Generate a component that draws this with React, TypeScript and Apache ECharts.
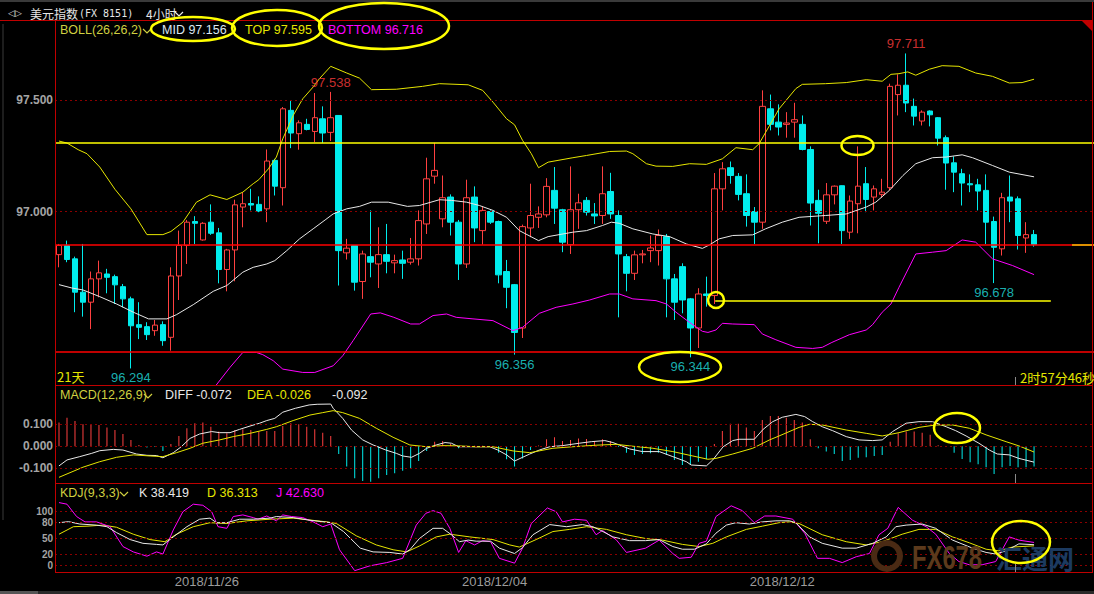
import React, { useEffect, useRef } from 'react';
import * as echarts from 'echarts';

// ---- price candles: [open, close, low, high], one per 4-hour bar ----
const candles: number[][] = [
  [96.806, 96.847, 96.749, 96.854], [96.847, 96.784, 96.772, 96.869], [96.787, 96.637, 96.547, 96.797],
  [96.637, 96.592, 96.527, 96.854], [96.592, 96.697, 96.471, 96.730], [96.697, 96.724, 96.614, 96.779],
  [96.719, 96.704, 96.632, 96.742], [96.707, 96.670, 96.584, 96.716], [96.662, 96.607, 96.569, 96.674],
  [96.607, 96.486, 96.294, 96.617], [96.491, 96.479, 96.426, 96.592], [96.482, 96.446, 96.422, 96.502],
  [96.464, 96.489, 96.441, 96.512], [96.491, 96.419, 96.396, 96.506], [96.434, 96.710, 96.374, 96.749],
  [96.710, 96.847, 96.602, 96.914], [96.847, 96.952, 96.764, 96.962], [96.955, 96.947, 96.854, 96.979],
  [96.872, 96.947, 96.869, 96.952], [96.952, 96.902, 96.895, 97.032], [96.904, 96.739, 96.677, 96.926],
  [96.739, 96.827, 96.641, 96.832], [96.827, 97.030, 96.686, 97.053], [97.020, 97.035, 96.929, 97.087],
  [97.036, 97.029, 97.005, 97.102], [97.032, 97.002, 96.997, 97.068], [97.012, 97.227, 96.952, 97.279],
  [97.230, 97.114, 97.072, 97.237], [97.107, 97.462, 97.027, 97.470], [97.455, 97.353, 97.285, 97.497],
  [97.350, 97.399, 97.278, 97.410], [97.392, 97.369, 97.365, 97.417], [97.360, 97.422, 97.312, 97.533],
  [97.417, 97.353, 97.308, 97.473], [97.356, 97.422, 97.317, 97.538], [97.432, 96.824, 96.667, 97.432],
  [96.814, 96.835, 96.784, 96.877], [96.847, 96.682, 96.644, 96.847], [96.685, 96.809, 96.607, 96.824],
  [96.797, 96.772, 96.704, 97.005], [96.764, 96.806, 96.656, 96.929], [96.806, 96.776, 96.722, 96.944],
  [96.769, 96.779, 96.722, 96.806], [96.782, 96.767, 96.697, 96.824], [96.772, 96.787, 96.761, 96.881],
  [96.787, 96.959, 96.757, 97.005], [96.944, 97.147, 96.899, 97.242], [97.159, 97.185, 97.125, 97.309],
  [96.967, 97.062, 96.929, 97.162], [97.065, 96.952, 96.892, 97.077], [96.952, 96.764, 96.692, 96.962],
  [96.764, 97.062, 96.746, 97.143], [97.065, 96.926, 96.862, 97.113], [96.914, 97.005, 96.851, 97.023],
  [97.000, 96.952, 96.944, 97.005], [96.955, 96.715, 96.677, 96.959], [96.730, 96.659, 96.565, 96.782],
  [96.671, 96.456, 96.356, 96.674], [96.476, 96.932, 96.431, 96.941], [96.926, 96.982, 96.884, 97.125],
  [96.974, 96.989, 96.926, 97.023], [96.985, 97.113, 96.974, 97.150], [97.095, 97.015, 96.944, 97.200],
  [97.008, 96.862, 96.817, 97.012], [96.851, 97.008, 96.809, 97.203], [97.008, 97.039, 96.922, 97.080],
  [97.050, 96.997, 96.982, 97.065], [96.989, 96.980, 96.944, 97.038], [96.982, 97.080, 96.944, 97.203],
  [97.090, 96.989, 96.967, 97.174], [96.982, 96.809, 96.524, 97.005], [96.797, 96.722, 96.641, 96.809],
  [96.722, 96.805, 96.692, 96.824], [96.805, 96.809, 96.767, 96.827], [96.824, 96.836, 96.772, 96.892],
  [96.824, 96.892, 96.757, 96.919], [96.887, 96.697, 96.524, 96.899], [96.697, 96.592, 96.512, 96.719],
  [96.752, 96.602, 96.542, 96.767], [96.607, 96.476, 96.344, 96.611], [96.476, 96.629, 96.386, 96.655],
  [96.629, 96.622, 96.572, 96.707], [96.622, 97.102, 96.584, 97.173], [97.102, 97.192, 97.005, 97.222],
  [97.197, 97.162, 97.125, 97.225], [97.158, 97.077, 97.050, 97.173], [97.080, 96.982, 96.932, 97.167],
  [97.000, 96.952, 96.854, 97.020], [96.952, 97.473, 96.922, 97.545], [97.462, 97.392, 97.365, 97.526],
  [97.402, 97.380, 97.342, 97.482], [97.392, 97.398, 97.332, 97.447], [97.402, 97.413, 97.332, 97.489],
  [97.392, 97.279, 97.275, 97.432], [97.279, 97.038, 96.937, 97.293], [97.050, 96.992, 96.857, 97.098],
  [96.956, 97.075, 96.944, 97.128], [97.075, 97.114, 97.032, 97.117], [97.116, 96.914, 96.854, 97.117],
  [96.907, 97.047, 96.877, 97.072], [97.035, 97.114, 96.902, 97.293], [97.125, 97.054, 96.997, 97.200],
  [97.065, 97.102, 97.005, 97.117], [97.077, 97.087, 97.062, 97.147], [97.107, 97.563, 97.095, 97.575],
  [97.526, 97.568, 97.432, 97.617], [97.568, 97.488, 97.447, 97.711], [97.473, 97.429, 97.387, 97.508],
  [97.407, 97.447, 97.387, 97.455], [97.452, 97.435, 97.383, 97.455], [97.422, 97.330, 97.297, 97.425],
  [97.332, 97.218, 97.098, 97.342], [97.219, 97.177, 97.087, 97.248], [97.170, 97.128, 97.027, 97.192],
  [97.125, 97.120, 97.087, 97.167], [97.120, 97.092, 97.005, 97.147], [97.095, 96.952, 96.854, 97.167],
  [96.955, 96.839, 96.678, 96.977], [96.832, 97.062, 96.802, 97.084], [97.065, 97.047, 96.952, 97.162],
  [97.057, 96.892, 96.829, 97.068], [96.881, 96.896, 96.814, 96.952], [96.896, 96.851, 96.842, 96.917],
];
const SLOTS = 130; // bar slots across the panel (last ones empty)

// ---- Bollinger (26,26,2) lines, vertices as [bar index, value] ----
const upperBand: number[][] = [
  [0, 97.317], [1, 97.308], [2.4, 97.278], [3.5, 97.26], [5.1, 97.2], [7, 97.1], [9, 97.012], [11, 96.896],
  [13, 96.896], [14, 96.91], [15.5, 96.952], [17.2, 97.042], [18.9, 97.075], [21, 97.054], [23, 97.087],
  [24.3, 97.125], [25, 97.143], [26.2, 97.192], [27.2, 97.245], [28, 97.327], [29.3, 97.432], [30.5, 97.507],
  [31.8, 97.56], [32.6, 97.598], [34, 97.653], [36, 97.623], [37.6, 97.6], [39.1, 97.548], [42.2, 97.55],
  [45.5, 97.563], [47.6, 97.575], [51.2, 97.57], [53, 97.545], [54.3, 97.492], [56, 97.417], [57, 97.39],
  [58, 97.32], [59.1, 97.26], [60, 97.197], [61.2, 97.222], [64.3, 97.242], [66, 97.252], [68.9, 97.27],
  [71, 97.272], [71.8, 97.26], [73.5, 97.215], [74.7, 97.204], [76.8, 97.203], [78.9, 97.215], [81, 97.212],
  [83, 97.237], [84.7, 97.287], [86.8, 97.278], [87.6, 97.305], [90.1, 97.462], [92.2, 97.553], [93, 97.572],
  [95.9, 97.575], [98.5, 97.58], [101, 97.593], [103, 97.586], [104.1, 97.617], [105.1, 97.62], [106.2, 97.628],
  [107.2, 97.613], [108.9, 97.64], [110.5, 97.656], [112.6, 97.653], [114.7, 97.623], [116.8, 97.608],
  [118.9, 97.578], [120.5, 97.58], [122, 97.595],
];
const midBand: number[][] = [
  [0, 96.671], [1.6, 96.656], [3, 96.647], [5.1, 96.617], [7.2, 96.584], [9.3, 96.547], [11.2, 96.517],
  [13.5, 96.517], [14.7, 96.536], [16.8, 96.581], [19.3, 96.641], [21, 96.667], [23, 96.727], [24.3, 96.749],
  [26, 96.764], [27, 96.779], [28.5, 96.824], [30.1, 96.877], [31.8, 96.922], [33.3, 96.962], [34.3, 96.989],
  [36, 97.012], [37.6, 97.023], [39.1, 97.042], [41.2, 97.042], [43.6, 97.023], [45.1, 97.027], [47.6, 97.053],
  [49.1, 97.05], [51, 97.042], [52.6, 97.027], [54.3, 97.005], [56, 96.974], [57.6, 96.914], [60, 96.869],
  [61.2, 96.887], [64.3, 96.907], [66, 96.914], [68, 96.937], [69.1, 96.952], [70.1, 96.947], [71.8, 96.922],
  [74.3, 96.899], [76.4, 96.887], [78.5, 96.854], [80.5, 96.834], [81.4, 96.85], [82.6, 96.877], [84.3, 96.892],
  [86.8, 96.895], [88.4, 96.922], [90.5, 96.952], [92.6, 96.974], [95.9, 96.982], [98.5, 96.989], [101, 97.02],
  [102.2, 97.042], [103.9, 97.095], [105.6, 97.162], [107.2, 97.215], [109.3, 97.242], [111, 97.245],
  [113, 97.255], [114.3, 97.242], [116.8, 97.207], [118.9, 97.177], [122, 97.156],
];
const lowerBand: number[][] = [
  [19.6, 96.216], [21.4, 96.299], [23, 96.366], [24.7, 96.366], [25.5, 96.356], [26.8, 96.329], [28, 96.291],
  [30.5, 96.276], [32, 96.276], [34.3, 96.306], [35.5, 96.351], [36.8, 96.419], [39, 96.539], [40.2, 96.544],
  [41.9, 96.524], [44, 96.494], [45.1, 96.494], [46.8, 96.532], [48.5, 96.539], [49.7, 96.524], [51.8, 96.517],
  [54.3, 96.509], [56.8, 96.464], [58, 96.479], [60.1, 96.542], [62.2, 96.569], [64.3, 96.584], [66.4, 96.602],
  [68.9, 96.629], [70.1, 96.629], [71.8, 96.607], [74.7, 96.599], [76, 96.584], [77.2, 96.547], [78.9, 96.501],
  [80.5, 96.461], [81.2, 96.456], [82.2, 96.467], [83, 96.497], [84.3, 96.494], [87, 96.491], [88, 96.449],
  [89.7, 96.423], [92.2, 96.389], [94.3, 96.384], [95.5, 96.389], [96.7, 96.411], [98.9, 96.446], [101, 96.467],
  [101.8, 96.491], [103, 96.547], [104.1, 96.584], [105.1, 96.659], [107.2, 96.809], [109.3, 96.817],
  [111, 96.824], [113, 96.872], [114.7, 96.862], [116.8, 96.787], [119.3, 96.757], [122, 96.716],
];

// ---- marked highs / lows ----
const extremeIdx = [34, 106, 9, 57, 79, 117];
const extremeVal = [97.538, 97.711, 96.294, 96.356, 96.344, 96.678];
const extremeIsHigh = [true, true, false, false, false, false];

// ---- drawn guide levels ----
const redLevels = [96.852, 96.367];
const yellowLevels = [97.305];
const yellowSegment: number[][] = [[82.1, 96.599], [124.1, 96.599]];
const priceGrid = [97.0, 97.5];
const priceTicks = [97.0, 97.5];

// ---- MACD(12,26,9) ----
const macdHist = [
  0.108, 0.130, 0.115, 0.100, 0.097, 0.097, 0.086, 0.074, 0.056, 0.029, 0.006, -0.006, -0.003, -0.021, 0.011,
  0.047, 0.082, 0.105, 0.108, 0.089, 0.067, 0.059, 0.074, 0.077, 0.074, 0.067, 0.070, 0.070, 0.092, 0.105,
  0.100, 0.089, 0.077, 0.062, 0.047, -0.035, -0.092, -0.145, -0.158, -0.161, -0.145, -0.130, -0.123, -0.111,
  -0.100, -0.067, -0.021, 0.021, 0.024, 0.011, -0.009, 0.002, 0.003, 0.003, -0.002, -0.029, -0.059, -0.092,
  -0.055, -0.017, 0.004, 0.032, 0.041, 0.024, 0.029, 0.036, 0.033, 0.024, 0.032, 0.024, -0.003, -0.029,
  -0.039, -0.035, -0.032, -0.029, -0.039, -0.062, -0.085, -0.085, -0.070, -0.059, 0.011, 0.070, 0.102, 0.102,
  0.086, 0.070, 0.120, 0.138, 0.138, 0.130, 0.120, 0.108, 0.032, -0.009, -0.024, -0.035, -0.067, -0.062,
  -0.052, -0.050, -0.044, -0.039, 0.021, 0.059, 0.067, 0.067, 0.062, 0.052, 0.005, -0.003, -0.029, -0.058,
  -0.073, -0.082, -0.095, -0.126, -0.095, -0.089, -0.095, -0.095, -0.092,
];
const diffLine: number[][] = [
  [0, -0.089], [1, -0.062], [2.6, -0.047], [4.1, -0.032], [5.1, -0.02], [6.8, -0.014], [8, -0.017],
  [9.7, -0.035], [11, -0.041], [12.2, -0.042], [13, -0.052], [14.3, -0.029], [15.3, -0.002], [16.4, 0.036],
  [17.6, 0.056], [19.1, 0.067], [20.1, 0.062], [21.4, 0.062], [22.6, 0.077], [23.9, 0.092], [25.1, 0.105],
  [26, 0.117], [27, 0.127], [28, 0.155], [29.6, 0.173], [31.3, 0.188], [32.3, 0.191], [34, 0.192],
  [34.3, 0.173], [35.5, 0.127], [36.6, 0.074], [38, 0.029], [39.3, 0.006], [40.9, -0.017], [42.2, -0.032],
  [43, -0.044], [44.1, -0.05], [45.1, -0.032], [46, -0.009], [47.2, 0.006], [48.3, 0.017], [49.1, 0.014],
  [50, -0.002], [51.8, -0.002], [53.9, -0.002], [54.9, -0.017], [56, -0.039], [57, -0.067], [58, -0.05],
  [58.9, -0.035], [60.1, -0.017], [61.4, -0.002], [63, 0.003], [65.1, 0.014], [66.6, 0.021], [68.3, 0.026],
  [69.3, 0.017], [70.1, 0.006], [71.4, -0.012], [73, -0.024], [75.1, -0.024], [76.8, -0.047], [78.5, -0.07],
  [79.1, -0.085], [81, -0.089], [81.8, -0.062], [83.1, -0.002], [84.3, 0.026], [85.1, 0.032], [87, 0.032],
  [88.1, 0.077], [89.3, 0.112], [90.5, 0.132], [92.2, 0.145], [93.3, 0.135], [94.3, 0.112], [95.5, 0.089],
  [96.8, 0.071], [98.5, 0.044], [100.1, 0.029], [101.8, 0.026], [103, 0.029], [104.3, 0.067], [106, 0.105],
  [107.6, 0.112], [109.3, 0.112], [111, 0.089], [112.2, 0.071], [113.5, 0.047], [115.1, 0.014],
  [116.4, -0.017], [117.4, -0.035], [118.9, -0.039], [120.1, -0.055], [122, -0.072],
];
const deaLine: number[][] = [
  [0, -0.141], [3, -0.095], [5.1, -0.07], [7.2, -0.05], [9.3, -0.039], [11.4, -0.044], [13, -0.047],
  [14.7, -0.029], [16.4, -0.009], [18, 0.014], [20.1, 0.029], [21.8, 0.044], [23.9, 0.059], [26, 0.077],
  [27.2, 0.089], [29.3, 0.117], [31.4, 0.142], [33, 0.153], [34.3, 0.162], [35.5, 0.153], [37.6, 0.127],
  [39.7, 0.082], [41.8, 0.041], [43.9, 0.006], [46, -0.002], [48, 0.003], [50, 0.002], [52.2, -0.002],
  [54.3, -0.002], [56.8, -0.021], [58.9, -0.029], [61.8, -0.009], [64.3, -0.002], [67.2, 0.005], [69.7, 0.009],
  [71.4, 0.002], [74.3, -0.009], [76.8, -0.024], [79.3, -0.044], [81.2, -0.059], [82.2, -0.055], [84.3, -0.035],
  [86.8, -0.009], [88.9, 0.029], [90.1, 0.047], [92.6, 0.086], [93.9, 0.1], [95.5, 0.097], [98.5, 0.074],
  [101, 0.059], [103, 0.047], [105.1, 0.062], [107.6, 0.086], [109.7, 0.097], [111.8, 0.097], [113.9, 0.082],
  [116, 0.052], [118.5, 0.021], [120.1, 0.002], [122, -0.026],
];
const macdGrid = [-0.1, 0, 0.1];

// ---- KDJ(9,3,3) ----
const kLine: number[][] = [
  [0, 79.5], [1.2, 81.4], [2.6, 77], [4.7, 75], [6, 72], [7.2, 61], [8.9, 48], [10.5, 41], [12.2, 39], [13, 38],
  [14.3, 53], [16, 72], [17.6, 86], [18.9, 88], [19.7, 79.5], [21, 79.5], [22.6, 86], [24.3, 86], [26.4, 88],
  [27.2, 91], [29.3, 89], [31.4, 84], [34, 79.5], [35.6, 63], [37.7, 32], [39.3, 25], [41.4, 24], [43, 21],
  [43.9, 29], [45.1, 50], [46.8, 69], [48, 69], [49.1, 57], [50.1, 44], [51.2, 47], [52.2, 45], [54, 45],
  [55.1, 32], [57, 22], [58, 33], [59.3, 57], [61.4, 76], [63.5, 72], [65.5, 76], [66.8, 72], [67.8, 65],
  [69.3, 53], [71.4, 46], [73.4, 46], [75.1, 48], [76.8, 35], [78, 30], [79.5, 30], [81, 40], [82.2, 60],
  [83.5, 75], [84.7, 79.5], [86.4, 77], [88, 81], [89.7, 83], [91.4, 83], [92.2, 79.5], [93.9, 53], [95.5, 41],
  [98, 32], [99.75, 32], [101.8, 41], [103.5, 53], [104.7, 72], [106, 75], [108, 77], [109.7, 69], [111.8, 47],
  [114.3, 32], [116, 24], [117.2, 21], [118.5, 27], [120.1, 40], [122, 38.419],
];
const dLine: number[][] = [
  [0, 58], [1.8, 72], [3.5, 73], [5.5, 75], [7.2, 71], [9.3, 58], [11.4, 48], [13.25, 44], [14.7, 58],
  [16.8, 72], [18.9, 79.5], [21, 78], [23.5, 83], [26.4, 86], [29.3, 88], [33.5, 81], [34.7, 78], [37.2, 55],
  [39.7, 38], [41.8, 29], [43.5, 25], [45.1, 36], [47.2, 53], [48.9, 58], [51.4, 53], [54.3, 48], [56.4, 38],
  [57.6, 34], [59.7, 48], [61.8, 63], [63.9, 67], [66, 72], [68.5, 67], [71, 57], [73.4, 50], [75.5, 47],
  [78, 39], [80.1, 35], [81.8, 41], [83.5, 53], [86, 67], [88, 73], [90.1, 79.5], [91.4, 81], [92.6, 78],
  [95.5, 57], [98.5, 44], [101, 38], [103, 44], [105.5, 58], [107.6, 67], [109.7, 67], [111.8, 53],
  [113.9, 42], [116, 30], [117.6, 27], [119.3, 34], [122, 36.313],
];
const jLine: number[][] = [
  [0, 117], [1, 114], [2.2, 91], [3.25, 81], [4.7, 81], [6.4, 72], [8, 35], [9.3, 25], [11, 17], [12.2, 25],
  [13, 21], [14.3, 66], [15.5, 100], [16.8, 114], [18, 112], [19.1, 100], [19.9, 72], [21, 69], [21.8, 91],
  [23, 94], [24.3, 89], [24.9, 86], [26, 92], [27.2, 83], [28, 94], [29.1, 91], [30.5, 89], [31.8, 81], [33, 72],
  [34, 77], [35.1, 29], [37, -10], [38.9, -1], [41, 5], [43, 13], [44.7, 75], [45.9, 97], [46.8, 102],
  [47.8, 97], [48.9, 69], [50, 24], [50.9, 46], [52, 38], [53, 46], [54, 44], [55.1, 13], [57, 4], [58, 32],
  [59.1, 78], [61.1, 107], [62.2, 100], [63, 81], [64.5, 86], [66, 84], [67.2, 57], [68, 65], [69.7, 48],
  [71, 24], [73.4, 32], [75.1, 47], [76.8, 22], [77.6, 13], [79.1, 15], [80.1, 41], [81, 45], [82.2, 91],
  [84.1, 111], [85.5, 102], [87, 79.5], [88.3, 92], [89.7, 92], [91.8, 86], [93.3, 60], [94.9, 13], [96.4, 13],
  [98, 5], [99.75, 16], [101.4, 22], [102.6, 57], [103.7, 69], [105, 108], [106.8, 84], [108.5, 72],
  [109.7, 58], [111.4, 22], [112.6, 7], [113.9, 1], [115.5, 1], [117.2, 7], [118.9, 53], [120.1, 47],
  [122, 42.63],
];
const kdjGrid = [0, 20, 50, 80, 100];
const kdjTicksA = [0, 50, 100];
const kdjTicksB = [20, 80];

// ---- date labels ----
const dateLabels = ['2018/11/26', '2018/12/04', '2018/12/12'];
const datePos = [18.5, 54.5, 90.5];

const UP = '#ff4040';
const DOWN = '#00ecec';
const YEL = '#e6e600';
const OLIVE = '#d0d040';
const MAG = '#ff00ff';
const WHITE = '#e8e8e8';
const GRIDRED = '#8a0000';
const BORDER = '#c00000';
const FONT = '"Liberation Sans", Arial, sans-serif';

const last = (a: number[][]) => a[a.length - 1][1];

function buildOption(): any {
  const cats = Array.from({ length: SLOTS }, (_, i) => String(i));
  const gridLine = (vals: number[]) => vals.map((v) => ({ yAxis: v }));
  const dotted = { color: GRIDRED, type: [2, 3], width: 1 };

  const txt = (x: number, y: number, text: string, fill: string, size = 12.5, extra: any = {}) => ({
    type: 'text', x, y, z: 50,
    style: { text, fill, font: `${size}px ${FONT}`, align: 'left', verticalAlign: 'middle', ...extra },
  });
  const chevron = (x: number, y: number, color: string) => ({
    type: 'polyline', z: 50,
    shape: { points: [[x, y - 2], [x + 4, y + 2], [x + 8, y - 2]] },
    style: { stroke: color, lineWidth: 1.2, fill: 'none' },
  });
  const hline = (x1: number, x2: number, y: number, color: string, w = 1) => ({
    type: 'line', z: 40, shape: { x1, y1: y, x2, y2: y }, style: { stroke: color, lineWidth: w },
  });
  const vline = (x: number, y1: number, y2: number, color: string, w = 1) => ({
    type: 'line', z: 40, shape: { x1: x, y1, x2: x, y2 }, style: { stroke: color, lineWidth: w },
  });
  const ell = (cx: number, cy: number, rx: number, ry: number) => ({
    type: 'ellipse', z: 60, shape: { cx, cy, rx, ry }, style: { stroke: '#ffff00', lineWidth: 2.5, fill: 'none' },
  });

  const graphic: any[] = [
    { type: 'rect', z: 30, shape: { x: 0, y: 0, width: 1094, height: 2 }, style: { fill: '#3a3a3a' } },
    { type: 'rect', z: 30, shape: { x: 0, y: 591, width: 1094, height: 3 }, style: { fill: '#2a2a2a' } },
    { type: 'rect', z: 30, shape: { x: 0, y: 591, width: 38, height: 3 }, style: { fill: '#555555' } },
    vline(3, 24, 520, '#3a3a3a', 1),
    txt(8, 13, '◁▷', '#d8d8d8', 9, { font: `9px "DejaVu Sans"` }),
    txt(30, 13, '美元指数', '#e6e6e6', 12, { font: `12px "Noto Sans CJK SC"` }),
    txt(79, 13, '(FX 8151)', '#e6e6e6', 10, { font: `10px "DejaVu Sans Mono"` }),
    txt(146, 13, '4小时', '#e6e6e6', 12, { font: `12px "Noto Sans CJK SC"` }),
    chevron(175, 14, '#e6e6e6'),
    // panel borders
    hline(0, 1093, 20.5, BORDER),
    hline(55, 1093, 385.5, BORDER),
    hline(55, 1093, 483.5, BORDER),
    hline(55, 1093, 572.5, BORDER),
    vline(55.5, 20.5, 572.5, BORDER),
    vline(1092.5, 2, 572.5, BORDER),
    { type: 'polygon', z: 41, shape: { points: [[1082, 21], [1092, 21], [1092, 31]] }, style: { fill: BORDER } },
    vline(1015.5, 377, 385, '#8a8a8a'),
    vline(1015.5, 474, 483, '#8a8a8a'),
    vline(1015.5, 564, 572, '#8a8a8a'),
    // legends
    txt(60, 29.5, 'BOLL(26,26,2)', OLIVE),
    chevron(143, 31, OLIVE),
    txt(162, 29.5, `MID ${last(midBand).toFixed(3)}`, '#dce8f4'),
    txt(245, 29.5, `TOP ${last(upperBand).toFixed(3)}`, YEL),
    txt(328, 29.5, `BOTTOM ${last(lowerBand).toFixed(3)}`, MAG),
    txt(60, 395, 'MACD(12,26,9)', OLIVE),
    chevron(144, 396, OLIVE),
    txt(165, 395, `DIFF ${last(diffLine).toFixed(3)}`, WHITE),
    txt(247, 395, `DEA ${last(deaLine).toFixed(3)}`, YEL),
    txt(332, 395, macdHist[macdHist.length - 1].toFixed(3), WHITE),
    txt(60, 493, 'KDJ(9,3,3)', OLIVE),
    chevron(120, 494, OLIVE),
    txt(139, 493, `K ${last(kLine).toFixed(3)}`, WHITE),
    txt(207, 493, `D ${last(dLine).toFixed(3)}`, YEL),
    txt(276, 493, `J ${last(jLine).toFixed(3)}`, MAG),
    txt(57, 376, '21天', YEL, 13, { font: `13px "Noto Sans CJK SC"` }),
    txt(1020, 377, '2时57分46秒', YEL, 13, { font: `13px "Noto Sans CJK SC"` }),
    // watermark
    { type: 'ring', z: 20, shape: { cx: 887, cy: 556, r: 16, r0: 10 }, style: { fill: '#4a2a14' } },
    { ...txt(912, 557, 'FX678', '#5c3a1c', 34, { font: `bold 34px ${FONT}` }), scaleX: 0.7 },
    { ...txt(996, 557, '汇通网', '#1c3a60', 26, { font: `bold 26px "Noto Sans CJK SC"` }), z: 21 },
    // annotation ellipses
    ell(193, 29, 42, 12),
    ell(277, 28, 45, 18),
    ell(384, 26, 65, 23),
    ell(680, 367, 41, 15),
    ell(716, 300, 8, 8),
    ell(857.5, 145.5, 16, 9.5),
    ell(957, 428, 23, 15),
    ell(1021, 542, 29, 21),
  ];

  const grids = [
    { left: 55, top: 20.7, width: 1040, height: 364.6 },
    { left: 55, top: 385.3, width: 1040, height: 98 },
    { left: 55, top: 483.3, width: 1040, height: 89 },
  ];
  const hiddenCat = (g: number) => ({
    type: 'category', gridIndex: g, data: cats, show: false, boundaryGap: true, position: 'bottom',
  });
  const hiddenVal = (g: number) => ({
    type: 'value', gridIndex: g, min: -0.5, max: SLOTS - 0.5, show: false, position: 'bottom',
  });
  const axisLabelBase = {
    color: '#a4a4a4', fontWeight: 'bold', fontSize: 12, fontFamily: FONT, margin: 2,
    showMinLabel: true, showMaxLabel: true, hideOverlap: false,
  };
  const kdjLabelBase = { ...axisLabelBase, fontSize: 10, lineHeight: 10 };
  const yBase = {
    axisLine: { show: false }, axisTick: { show: false }, splitLine: { show: false }, position: 'left', offset: 0,
  };

  const extremes = extremeIdx.map((i, k) => ({
    value: [i, extremeVal[k]],
    label: { position: extremeIsHigh[k] ? 'top' : 'bottom', color: extremeIsHigh[k] ? '#ff3c3c' : '#20dede' },
  }));

  const series: any[] = [
    {
      type: 'candlestick', xAxisIndex: 0, yAxisIndex: 0, data: candles, barWidth: 6,
      itemStyle: { color: '#000000', color0: DOWN, borderColor: UP, borderColor0: DOWN, borderWidth: 1 },
      markLine: {
        silent: true, symbol: ['none', 'none'], label: { show: false }, animation: false,
        data: [
          ...priceGrid.map((v) => ({ yAxis: v, lineStyle: dotted })),
          ...redLevels.map((v) => ({ yAxis: v, lineStyle: { color: '#ff0000', width: 1.5, type: 'solid' } })),
          ...yellowLevels.map((v) => ({ yAxis: v, lineStyle: { color: '#ffff00', width: 1.5, type: 'solid' } })),
        ],
      },
    },
    {
      type: 'line', xAxisIndex: 1, yAxisIndex: 0, data: upperBand, showSymbol: false, symbol: 'none',
      lineStyle: { color: YEL, width: 1 }, itemStyle: { color: YEL },
      markLine: {
        silent: true, symbol: ['none', 'none'], label: { show: false }, animation: false,
        data: [
          [{ coord: yellowSegment[0] }, { coord: yellowSegment[1] }],
          [{ coord: [126.75, candles[candles.length - 1][1]] }, { coord: [129.5, candles[candles.length - 1][1]] }],
        ].map((d, k) => d.map((p) => ({ ...p, lineStyle: { color: k === 0 ? '#ffff00' : '#e8c000', width: 1.5, type: 'solid' } }))),
      },
    },
    {
      type: 'line', xAxisIndex: 1, yAxisIndex: 0, data: midBand, showSymbol: false, symbol: 'none',
      lineStyle: { color: WHITE, width: 1 }, itemStyle: { color: WHITE },
    },
    {
      type: 'line', xAxisIndex: 1, yAxisIndex: 0, data: lowerBand, showSymbol: false, symbol: 'none',
      lineStyle: { color: MAG, width: 1 }, itemStyle: { color: MAG },
    },
    {
      type: 'scatter', xAxisIndex: 1, yAxisIndex: 0, symbolSize: 0, data: extremes, z: 10,
      label: { show: true, distance: 3, fontSize: 13, fontFamily: FONT, formatter: (p: any) => p.value[1].toFixed(3) },
    },
    {
      type: 'bar', xAxisIndex: 2, yAxisIndex: 1, barWidth: 1,
      data: macdHist.map((v) => ({ value: v, itemStyle: { color: v >= 0 ? UP : DOWN } })),
      markLine: {
        silent: true, symbol: ['none', 'none'], label: { show: false }, animation: false,
        data: gridLine(macdGrid).map((d) => ({ ...d, lineStyle: dotted })),
      },
    },
    {
      type: 'line', xAxisIndex: 3, yAxisIndex: 1, data: diffLine, showSymbol: false, symbol: 'none',
      lineStyle: { color: WHITE, width: 1 },
    },
    {
      type: 'line', xAxisIndex: 3, yAxisIndex: 1, data: deaLine, showSymbol: false, symbol: 'none',
      lineStyle: { color: YEL, width: 1 },
    },
    {
      type: 'line', xAxisIndex: 5, yAxisIndex: 2, data: dLine, showSymbol: false, symbol: 'none',
      lineStyle: { color: YEL, width: 1 },
      markLine: {
        silent: true, symbol: ['none', 'none'], label: { show: false }, animation: false,
        data: gridLine(kdjGrid).map((d) => ({ ...d, lineStyle: dotted })),
      },
    },
    {
      type: 'line', xAxisIndex: 5, yAxisIndex: 2, data: jLine, showSymbol: false, symbol: 'none',
      lineStyle: { color: MAG, width: 1 },
    },
    {
      type: 'line', xAxisIndex: 5, yAxisIndex: 2, data: kLine, showSymbol: false, symbol: 'none',
      lineStyle: { color: WHITE, width: 1 },
    },
  ];

  return {
    animation: false,
    backgroundColor: '#000000',
    grid: grids,
    xAxis: [
      hiddenCat(0), hiddenVal(0), hiddenCat(1), hiddenVal(1), hiddenCat(2),
      {
        type: 'value', gridIndex: 2, min: -0.5, max: SLOTS - 0.5, position: 'bottom', offset: 0,
        axisLine: { show: false }, axisTick: { show: false }, splitLine: { show: false },
        axisLabel: {
          customValues: datePos, color: '#9c9c9c', fontSize: 13, fontFamily: FONT, margin: 3,
          showMinLabel: true, showMaxLabel: true,
          formatter: (v: number) => dateLabels[datePos.indexOf(v)] ?? '',
        },
      },
    ],
    yAxis: [
      {
        type: 'value', gridIndex: 0, min: 96.2182, max: 97.8583, ...yBase,
        axisLabel: { ...axisLabelBase, customValues: priceTicks, formatter: (v: number) => v.toFixed(3) },
      },
      {
        type: 'value', gridIndex: 1, min: -0.16818, max: 0.27727, ...yBase,
        axisLabel: { ...axisLabelBase, customValues: macdGrid, formatter: (v: number) => v.toFixed(3) },
      },
      {
        type: 'value', gridIndex: 2, min: -13.06, max: 152.99, ...yBase,
        axisLabel: { ...kdjLabelBase, customValues: kdjTicksA, formatter: (v: number) => String(v) },
      },
      {
        type: 'value', gridIndex: 2, min: -13.06, max: 152.99, ...yBase,
        axisLabel: { ...kdjLabelBase, customValues: kdjTicksB, formatter: (v: number) => String(v) },
      },
    ],
    graphic,
    series,
  };
}

export default function App() {
  const ref = useRef<HTMLDivElement>(null);
  useEffect(() => {
    if (!ref.current) return;
    const chart = echarts.init(ref.current, null, { renderer: 'svg' });
    chart.setOption(buildOption());
    return () => chart.dispose();
  }, []);
  return (
    <div
      ref={ref}
      style={{ position: 'fixed', left: 0, top: 0, width: 1094, height: 594, background: '#000' }}
    />
  );
}
